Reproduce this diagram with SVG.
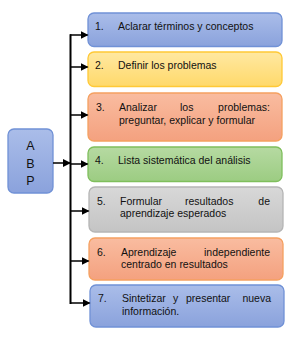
<svg xmlns="http://www.w3.org/2000/svg" width="294" height="338" viewBox="0 0 294 338">
<defs>
<linearGradient id="gBlue" x1="0" y1="0" x2="0" y2="1"><stop offset="0" stop-color="#aabde9"/><stop offset="1" stop-color="#8aa2dc"/></linearGradient>
<linearGradient id="gYellow" x1="0" y1="0" x2="0" y2="1"><stop offset="0" stop-color="#ffe8a2"/><stop offset="1" stop-color="#ffd96a"/></linearGradient>
<linearGradient id="gOrange" x1="0" y1="0" x2="0" y2="1"><stop offset="0" stop-color="#f9bca0"/><stop offset="1" stop-color="#f4a17f"/></linearGradient>
<linearGradient id="gGreen" x1="0" y1="0" x2="0" y2="1"><stop offset="0" stop-color="#b6daa2"/><stop offset="1" stop-color="#9ccc82"/></linearGradient>
<linearGradient id="gGrey" x1="0" y1="0" x2="0" y2="1"><stop offset="0" stop-color="#d8d8d8"/><stop offset="1" stop-color="#c4c4c4"/></linearGradient>
<marker id="arr" markerWidth="8" markerHeight="8" refX="7" refY="4" orient="auto" markerUnits="userSpaceOnUse"><path d="M0,0 L8,4 L0,8 Z" fill="#000"/></marker>
</defs>
<style>
.box{stroke-width:1.3}
.blue{fill:url(#gBlue);stroke:#7091d6}
.yellow{fill:url(#gYellow);stroke:#ffc936}
.orange{fill:url(#gOrange);stroke:#f5a060}
.green{fill:url(#gGreen);stroke:#7fbf5c}
.grey{fill:url(#gGrey);stroke:#b5b5b5}
text{font-family:"Liberation Sans",Arial,sans-serif;font-size:10.5px;fill:#111}
.abp{font-size:12.5px;text-anchor:middle}
.e{text-anchor:end}
.c{stroke:#000;stroke-width:1.5;fill:none}
</style>
<g id="abp">
<rect class="box blue" x="8" y="129" width="45" height="64" rx="6"/>
<text class="abp" x="30.5" y="149.5">A</text>
<text class="abp" x="30.5" y="167.5">B</text>
<text class="abp" x="30.5" y="184.5">P</text>
</g>
<g id="n1">
<rect class="box blue" x="88" y="13" width="194" height="33.5" rx="6"/>
<text x="95" y="30">1.</text><text x="118" y="30">Aclarar términos y conceptos</text>
</g>
<g id="n2">
<rect class="box yellow" x="88" y="52" width="194" height="34.5" rx="6"/>
<text x="95" y="69">2.</text><text x="118" y="69">Definir los problemas</text>
</g>
<g id="n3">
<rect class="box orange" x="88" y="93" width="194" height="48" rx="6"/>
<text x="96" y="111">3.</text><text x="119" y="111">Analizar</text><text x="180" y="111">los</text><text class="e" x="270" y="111">problemas:</text>
<text x="119" y="123.5">preguntar, explicar y formular</text>
</g>
<g id="n4">
<rect class="box green" x="88" y="147" width="194" height="34.5" rx="6"/>
<text x="95" y="164">4.</text><text x="118" y="164">Lista sistemática del análisis</text>
</g>
<g id="n5">
<rect class="box grey" x="89" y="187" width="194" height="45" rx="6"/>
<text x="97" y="204.5">5.</text><text x="120" y="204.5">Formular</text><text x="185" y="204.5">resultados</text><text class="e" x="270" y="204.5">de</text>
<text x="120" y="217">aprendizaje esperados</text>
</g>
<g id="n6">
<rect class="box orange" x="89" y="238" width="194" height="42" rx="6"/>
<text x="97" y="255.5">6.</text><text x="121" y="255.5">Aprendizaje</text><text class="e" x="270" y="255.5">independiente</text>
<text x="121" y="268">centrado en resultados</text>
</g>
<g id="n7">
<rect class="box blue" x="90" y="285" width="194" height="42" rx="6"/>
<text x="98" y="302">7.</text><text x="122" y="302">Sintetizar</text><text x="173" y="302">y</text><text x="186" y="302">presentar</text><text class="e" x="271" y="302">nueva</text>
<text x="122" y="315">información.</text>
</g>
<g id="connectors">
<line x1="70.5" y1="34.3" x2="70.5" y2="304" stroke="#000" stroke-width="2"/>
<line class="c" x1="53" y1="163" x2="70" y2="163" marker-end="url(#arr)"/>
<line class="c" x1="70" y1="35" x2="87.5" y2="35" marker-end="url(#arr)"/>
<line class="c" x1="70" y1="67" x2="87.5" y2="67" marker-end="url(#arr)"/>
<line class="c" x1="70" y1="115" x2="87.5" y2="115" marker-end="url(#arr)"/>
<line class="c" x1="70" y1="164" x2="87.5" y2="164" marker-end="url(#arr)"/>
<line class="c" x1="70" y1="211" x2="88.5" y2="211" marker-end="url(#arr)"/>
<line class="c" x1="70" y1="261" x2="88.5" y2="261" marker-end="url(#arr)"/>
<line class="c" x1="70" y1="303" x2="89.5" y2="303" marker-end="url(#arr)"/>
</g>
</svg>
